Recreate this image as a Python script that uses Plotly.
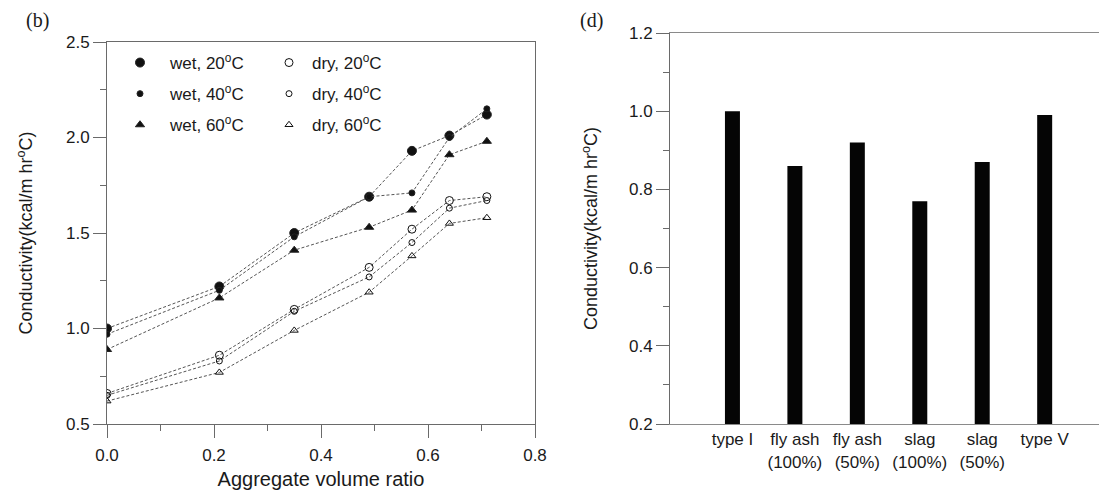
import plotly.graph_objects as go

# ---- panel (b): conductivity vs aggregate volume ratio ----
agg_ratio = [0.0, 0.21, 0.35, 0.49, 0.57, 0.64, 0.71]
wet_20 = [1.00, 1.22, 1.50, 1.69, 1.93, 2.01, 2.12]
wet_40 = [0.97, 1.20, 1.48, 1.69, 1.71, 2.00, 2.15]
wet_60 = [0.89, 1.16, 1.41, 1.53, 1.62, 1.91, 1.98]
dry_20 = [0.66, 0.86, 1.10, 1.32, 1.52, 1.67, 1.69]
dry_40 = [0.65, 0.83, 1.09, 1.27, 1.45, 1.63, 1.67]
dry_60 = [0.62, 0.77, 0.99, 1.19, 1.38, 1.55, 1.58]

# ---- panel (d): conductivity by binder type ----
binder_types = ["type I", "fly ash<br>(100%)", "fly ash<br>(50%)",
                "slag<br>(100%)", "slag<br>(50%)", "type V"]
binder_cond = [1.00, 0.86, 0.92, 0.77, 0.87, 0.99]

W, H = 1099, 490
FONT = "Liberation Sans, Arial, sans-serif"
AX = "#6a6a6a"
TXT = "#1a1a1a"
LINE = "#555555"

def px_x(p):
    return p / W

def px_y(p):
    return 1 - p / H

series = [
    ("wet, 20<sup>o</sup>C", wet_20, "circle", 9, "legend"),
    ("wet, 40<sup>o</sup>C", wet_40, "circle", 6, "legend"),
    ("wet, 60<sup>o</sup>C", wet_60, "triangle-up", 8, "legend"),
    ("dry, 20<sup>o</sup>C", dry_20, "circle-open", 8, "legend2"),
    ("dry, 40<sup>o</sup>C", dry_40, "circle-open", 6, "legend2"),
    ("dry, 60<sup>o</sup>C", dry_60, "triangle-up-open", 7, "legend2"),
]

fig = go.Figure()
for i, (name, vals, sym, size, leg) in enumerate(series):
    mk = dict(symbol=sym, size=size, color="#111111",
              line=dict(color="#222222", width=1))
    fig.add_trace(go.Scatter(
        x=agg_ratio, y=vals, mode="lines+markers", name=name,
        line=dict(color=LINE, width=1, dash="3px,2px"),
        marker=mk, showlegend=False, xaxis="x", yaxis="y"))
    # marker-only legend entry
    fig.add_trace(go.Scatter(
        x=[None], y=[None], mode="markers", name=name, marker=mk,
        legend=leg, legendgroup=f"g{i}", showlegend=True,
        xaxis="x", yaxis="y"))

fig.add_trace(go.Bar(
    x=binder_types, y=binder_cond, width=0.24,
    marker=dict(color="#050505", line=dict(width=0)),
    showlegend=False, xaxis="x2", yaxis="y2"))

tickfont = dict(family=FONT, size=17, color=TXT)
minor_common = dict(ticks="outside", ticklen=6, tickcolor=AX, tickwidth=1)
legfont = dict(family=FONT, size=17, color=TXT)
serif = dict(family="Liberation Serif, serif", size=20, color=TXT)

fig.update_layout(
    width=W, height=H,
    margin=dict(l=0, r=0, t=0, b=0),
    template="none",
    paper_bgcolor="white", plot_bgcolor="white",
    font=dict(family=FONT, size=17, color=TXT),
    xaxis=dict(
        domain=[px_x(107), px_x(535)], range=[0, 0.8], dtick=0.2,
        tickformat=".1f", ticks="outside", ticklen=13, tickcolor=AX,
        ticklabelstandoff=3,
        showline=True, linecolor=AX, mirror=True, showgrid=False,
        zeroline=False, tickfont=tickfont, automargin=False,
        minor=dict(dtick=0.1, **minor_common),
        title=dict(text="Aggregate volume ratio", standoff=8,
                   font=dict(family=FONT, size=20, color=TXT)),
        anchor="y"),
    yaxis=dict(
        domain=[px_y(424), px_y(42)], range=[0.5, 2.5], dtick=0.5,
        tickformat=".1f", ticks="outside", ticklen=13, tickcolor=AX,
        showline=True, linecolor=AX, mirror=True, showgrid=False,
        zeroline=False, tickfont=tickfont, automargin=False,
        minor=dict(dtick=0.25, **minor_common),
        title=dict(text="Conductivity(kcal/m hr<sup>o</sup>C)", standoff=28,
                   font=dict(family=FONT, size=18, color=TXT)),
        anchor="x"),
    xaxis2=dict(
        domain=[px_x(670), 1.0], range=[-1, 5.87], type="category",
        ticks="", showline=True, linecolor="#8a8a8a", mirror=True,
        showgrid=False, zeroline=False, automargin=False,
        tickfont=dict(family=FONT, size=17, color=TXT), anchor="y2"),
    yaxis2=dict(
        domain=[px_y(424), px_y(33)], range=[0.2, 1.2], dtick=0.2,
        tickformat=".1f", ticks="outside", ticklen=13, tickcolor=AX,
        showline=True, linecolor=AX, showgrid=False, zeroline=False,
        tickfont=tickfont, automargin=False,
        minor=dict(dtick=0.1, **minor_common),
        title=dict(text="Conductivity(kcal/m hr<sup>o</sup>C)", standoff=26,
                   font=dict(family=FONT, size=18, color=TXT)),
        anchor="x2"),
    legend=dict(
        x=px_x(110), y=px_y(45), xanchor="left", yanchor="top",
        itemwidth=50, bgcolor="rgba(0,0,0,0)", borderwidth=0,
        tracegroupgap=6, font=legfont),
    legend2=dict(
        x=px_x(266), y=px_y(45), xanchor="left", yanchor="top",
        itemwidth=36, bgcolor="rgba(0,0,0,0)", borderwidth=0,
        tracegroupgap=6, font=legfont),
    annotations=[
        dict(text="(b)", x=px_x(37), y=px_y(20), xref="paper", yref="paper",
             xanchor="center", yanchor="middle", showarrow=False, font=serif),
        dict(text="(d)", x=px_x(591), y=px_y(21), xref="paper", yref="paper",
             xanchor="center", yanchor="middle", showarrow=False, font=serif),
    ],
)

fig.write_html("out.html")
